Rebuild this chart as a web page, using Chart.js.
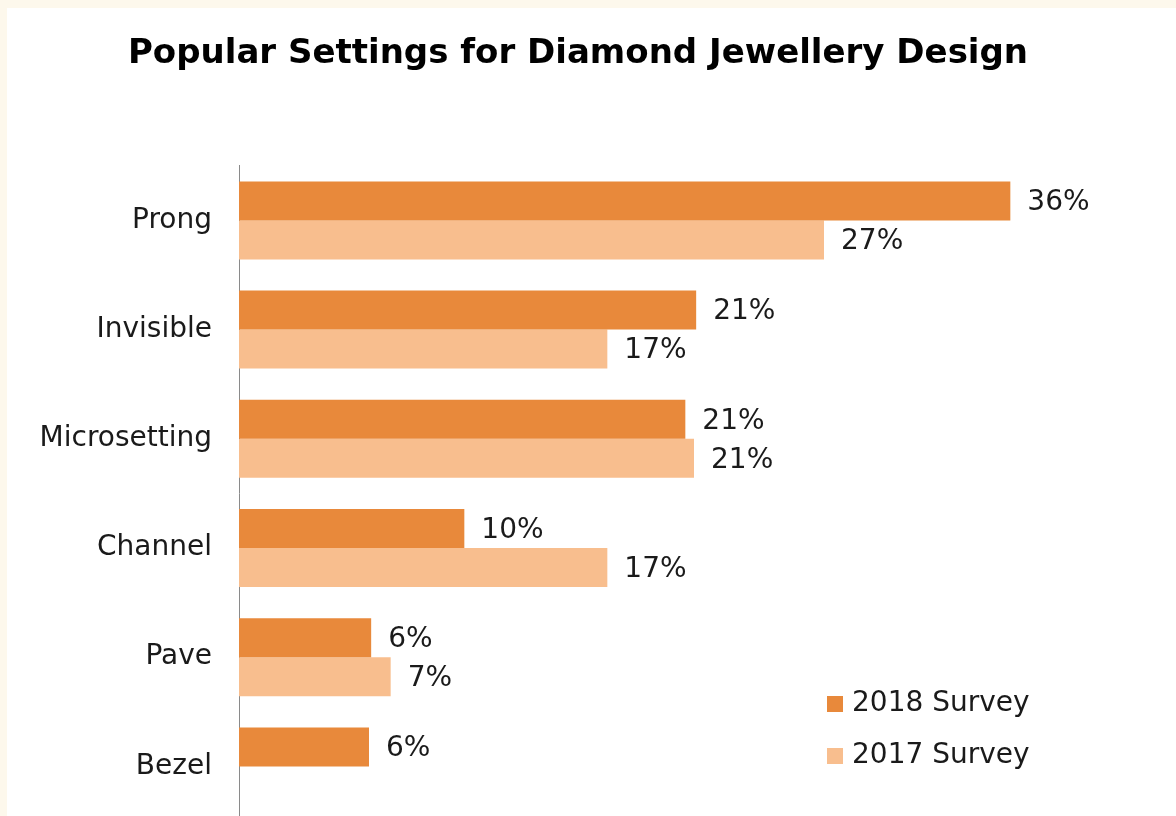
<!DOCTYPE html>
<html>
<head>
<meta charset="utf-8">
<script src="https://cdn.jsdelivr.net/npm/chart.js@4"></script>
<style>
  html, body { margin: 0; padding: 0; overflow: hidden; }
  body { width: 1176px; height: 816px; background: #fdf8ec; position: relative; }
  #panel { position: absolute; left: 7px; top: 8px; width: 1169px; height: 813px; background: #ffffff; }
  #grafico { display: block; }
</style>
</head>
<body>
<div id="panel"><canvas id="grafico" width="1169" height="813"></canvas></div>
<script>
// dados
const categorias = ['Prong', 'Invisible', 'Microsetting', 'Channel', 'Pave', 'Bezel'];
const survey2018 = [35.6, 21.1, 20.6, 10.4, 6.1, 6.0];
const survey2017 = [27.0, 17.0, 21.0, 17.0, 7.0, null];
const nomesSeries = ['2018 Survey', '2017 Survey'];
const coresSeries = ['#e8893b', '#f8be8e'];

const fonte = 'DejaVu Sans, Verdana, sans-serif';

// rótulos de valor no fim de cada barra
const rotulosPlugin = {
  id: 'rotulos',
  afterDatasetsDraw(chart) {
    const ctx = chart.ctx;
    ctx.save();
    ctx.font = '28px ' + fonte;
    ctx.fillStyle = '#1a1a1a';
    ctx.textAlign = 'left';
    ctx.textBaseline = 'middle';
    chart.data.datasets.forEach((ds, i) => {
      const meta = chart.getDatasetMeta(i);
      meta.data.forEach((bar, j) => {
        const v = ds.data[j];
        if (v === null || v === undefined) return;
        ctx.fillText(Math.round(v) + '%', bar.x + 17, bar.y + 2);
      });
    });
    ctx.restore();
  }
};

// legenda dentro da área do gráfico, canto inferior direito
const legendaPlugin = {
  id: 'legendaInterna',
  afterDraw(chart) {
    const ctx = chart.ctx;
    const area = chart.chartArea;
    const x0 = area.right - 322;
    const y0 = area.bottom - 117;
    ctx.save();
    ctx.font = '28px ' + fonte;
    ctx.textAlign = 'left';
    ctx.textBaseline = 'middle';
    chart.data.datasets.forEach((ds, i) => {
      const y = y0 + i * 52;
      ctx.fillStyle = ds.backgroundColor;
      ctx.fillRect(x0, y - 8, 16, 16);
      ctx.fillStyle = '#1a1a1a';
      ctx.fillText(ds.label, x0 + 25, y);
    });
    ctx.restore();
  }
};

new Chart(document.getElementById('grafico'), {
  type: 'bar',
  data: {
    labels: categorias,
    datasets: [
      { label: nomesSeries[0], data: survey2018, backgroundColor: coresSeries[0], categoryPercentage: 0.714, barPercentage: 1.0 },
      { label: nomesSeries[1], data: survey2017, backgroundColor: coresSeries[1], categoryPercentage: 0.714, barPercentage: 1.0 }
    ]
  },
  options: {
    indexAxis: 'y',
    responsive: false,
    animation: false,
    devicePixelRatio: 1,
    layout: { padding: { left: 0, right: 27, top: 0, bottom: 0 } },
    scales: {
      x: {
        display: false,
        min: 0,
        max: 42
      },
      y: {
        grid: { display: false, drawTicks: false },
        border: { display: true, color: '#8a8a8a', width: 1 },
        ticks: { color: '#1a1a1a', font: { family: fonte, size: 28 }, padding: 27 },
        afterFit(scale) {
          scale.width = 232;
          // sem margem extra em cima/baixo: o eixo vai até o fim da figura
          scale.paddingTop = 0;
          scale.paddingBottom = 0;
        }
      }
    },
    plugins: {
      legend: { display: false },
      tooltip: { enabled: false },
      title: {
        display: true,
        text: 'Popular Settings for Diamond Jewellery Design',
        color: '#000000',
        font: { family: fonte, size: 34, weight: 'bold' },
        padding: { top: 26, bottom: 91 }
      }
    }
  },
  plugins: [rotulosPlugin, legendaPlugin]
});
</script>
</body>
</html>
